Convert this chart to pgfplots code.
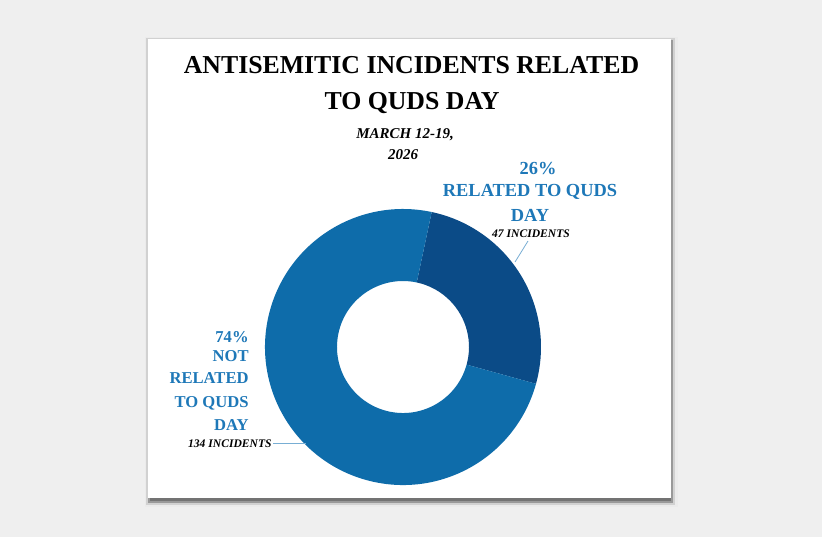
\documentclass[border=0pt]{standalone}
\usepackage{pgfplots}
\pgfplotsset{compat=1.18}
\usepackage{pgfplotstable}
\usepackage{fontspec}
\setmainfont{Liberation Serif}
\usetikzlibrary{calc}
\definecolor{bg}{HTML}{EFEFEF}
\definecolor{mainblue}{HTML}{0E6CAA}
\definecolor{darkblue}{HTML}{0B4B87}
\definecolor{lblblue}{HTML}{1E78B8}
\definecolor{leader}{HTML}{78AED4}

\pgfplotstableread{
label count
Related 47
NotRelated 134
}\piedata

\begin{document}
\begin{tikzpicture}[x=0.5pt,y=-0.5pt]
\pgfplotstablegetelem{0}{count}\of\piedata \let\va\pgfplotsretval
\pgfplotstablegetelem{1}{count}\of\piedata \let\vb\pgfplotsretval
\pgfmathsetmacro\fracA{\va/(\va+\vb)}
\pgfmathsetmacro\spanA{360*\fracA}
\pgfmathsetmacro\startA{78}
\pgfmathsetmacro\endA{\startA-\spanA}
\pgfmathsetmacro\endB{\startA-360}
% background and card
\fill[bg] (0,0) rectangle (822,537);
\fill[black!8] (145,37) rectangle (678,507);
\fill[black!18] (146,38) rectangle (675,505);
\fill[black!40] (148,40) rectangle (673,503);
\fill[black!55] (150,496) rectangle (671,501);
\fill[white] (148,39) rectangle (671,498);

\coordinate (C) at (403,347);
\begin{axis}[at={(C)}, anchor=center, hide axis, scale only axis,
  width=138pt, height=138pt, xmin=-1, xmax=1, ymin=-1, ymax=1, clip=false]
\fill[darkblue] ([shift={(\startA:69pt)}]axis cs:0,0)
  arc[start angle=\startA, end angle=\endA, radius=69pt]
  -- ([shift={(\endA:33pt)}]axis cs:0,0)
  arc[start angle=\endA, end angle=\startA, radius=33pt] -- cycle;
\fill[mainblue] ([shift={(\endA:69pt)}]axis cs:0,0)
  arc[start angle=\endA, end angle=\endB, radius=69pt]
  -- ([shift={(\endB:33pt)}]axis cs:0,0)
  arc[start angle=\endB, end angle=\endA, radius=33pt] -- cycle;
\end{axis}

% leader lines
\draw[leader, line width=0.4pt] (528,241) -- (515,262);
\draw[leader, line width=0.4pt] (273,443) -- (306,443);

% title
\node[anchor=base, font=\fontsize{12.9}{14}\selectfont\bfseries, inner sep=0pt] at (411.5,73) {ANTISEMITIC INCIDENTS RELATED};
\node[anchor=base, font=\fontsize{12.9}{14}\selectfont\bfseries, inner sep=0pt] at (412,109) {TO QUDS DAY};
\node[anchor=base, font=\fontsize{7.5}{9}\selectfont\bfseries\itshape, inner sep=0pt] at (405,138) {MARCH 12-19,};
\node[anchor=base, font=\fontsize{7.5}{9}\selectfont\bfseries\itshape, inner sep=0pt] at (403,159) {2026};

% right label
\node[anchor=base, font=\fontsize{9.2}{11}\selectfont\bfseries, text=lblblue, inner sep=0pt] at (538,174) {26\%};
\node[anchor=base, font=\fontsize{9.2}{11}\selectfont\bfseries, text=lblblue, inner sep=0pt] at (530,196) {RELATED TO QUDS};
\node[anchor=base, font=\fontsize{9.2}{11}\selectfont\bfseries, text=lblblue, inner sep=0pt] at (530,221) {DAY};
\node[anchor=base, font=\fontsize{5.8}{7}\selectfont\bfseries\itshape, inner sep=0pt] at (531,237) {47 INCIDENTS};

% left label
\node[anchor=base east, font=\fontsize{8.3}{10}\selectfont\bfseries, text=lblblue, inner sep=0pt] at (249,342) {74\%};
\node[anchor=base east, font=\fontsize{8.3}{10}\selectfont\bfseries, text=lblblue, inner sep=0pt] at (249,361) {NOT};
\node[anchor=base east, font=\fontsize{8.3}{10}\selectfont\bfseries, text=lblblue, inner sep=0pt] at (249,383) {RELATED};
\node[anchor=base east, font=\fontsize{8.3}{10}\selectfont\bfseries, text=lblblue, inner sep=0pt] at (249,407) {TO QUDS};
\node[anchor=base east, font=\fontsize{8.3}{10}\selectfont\bfseries, text=lblblue, inner sep=0pt] at (249,430) {DAY};
\node[anchor=base east, font=\fontsize{5.8}{7}\selectfont\bfseries\itshape, inner sep=0pt] at (272,447) {134 INCIDENTS};
\pgfresetboundingbox
\path[use as bounding box] (0,0) rectangle (822,537);
\end{tikzpicture}
\end{document}
